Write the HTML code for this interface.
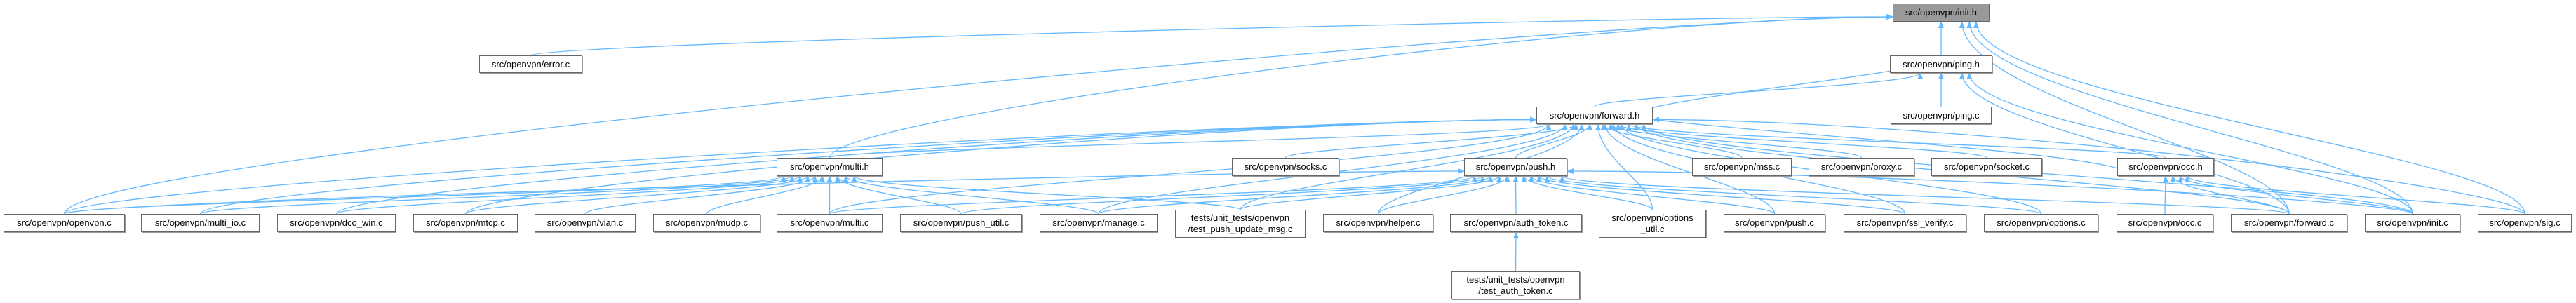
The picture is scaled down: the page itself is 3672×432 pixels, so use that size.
<!DOCTYPE html>
<html><head><meta charset="utf-8"><style>
html,body{margin:0;padding:0;background:#fff;}
body{width:3672px;height:432px;position:relative;overflow:hidden;font-family:"Liberation Sans",sans-serif;}
.n{position:absolute;box-sizing:border-box;border:1px solid #666;background:#fff;font-size:13px;color:#000;text-align:center;display:flex;align-items:center;justify-content:center;line-height:16px;box-shadow:1px 1px 0 #999;}
svg{position:absolute;left:0;top:0;}
</style></head><body>
<svg id="s" width="3672" height="432">
<defs><marker id="a" markerWidth="10" markerHeight="10" refX="9" refY="5" orient="auto" markerUnits="userSpaceOnUse"><path d="M0,1 L10,5 L0,9 z" fill="#63b8ff"/></marker></defs>
<g id="g" fill="none" stroke="#63b8ff" stroke-width="1.3"></g>
</svg>
<div id="nodes"></div>
<script>
var N={
initH:[2698,5,2836,31,"src/openvpn/init.h",1],
errorC:[683,79,830,104,"src/openvpn/error.c"],
pingH:[2694,79,2840,104,"src/openvpn/ping.h"],
pingC:[2695,152,2839,177,"src/openvpn/ping.c"],
fwdH:[2190,152,2356,177,"src/openvpn/forward.h"],
multiH:[1107,225,1258,251,"src/openvpn/multi.h"],
socksC:[1756,225,1909,251,"src/openvpn/socks.c"],
pushH:[2087,225,2234,251,"src/openvpn/push.h"],
mssC:[2412,225,2554,251,"src/openvpn/mss.c"],
proxyC:[2578,225,2729,251,"src/openvpn/proxy.c"],
socketC:[2753,225,2911,251,"src/openvpn/socket.c"],
occH:[3018,225,3156,251,"src/openvpn/occ.h"],
openvpnC:[5,305,178,331,"src/openvpn/openvpn.c"],
multiioC:[201,305,370,331,"src/openvpn/multi_io.c"],
dcoC:[395,305,564,331,"src/openvpn/dco_win.c"],
mtcpC:[589,305,738,331,"src/openvpn/mtcp.c"],
vlanC:[762,305,906,331,"src/openvpn/vlan.c"],
mudpC:[931,305,1084,331,"src/openvpn/mudp.c"],
multiC:[1107,305,1258,331,"src/openvpn/multi.c"],
pushutilC:[1283,305,1457,331,"src/openvpn/push_util.c"],
manageC:[1482,305,1650,331,"src/openvpn/manage.c"],
tpumC:[1675,299,1861,339,"tests/unit_tests/openvpn<br>/test_push_update_msg.c"],
helperC:[1886,305,2043,331,"src/openvpn/helper.c"],
authC:[2067,305,2255,331,"src/openvpn/auth_token.c"],
optutilC:[2279,299,2432,339,"src/openvpn/options<br>_util.c"],
pushC:[2457,305,2602,331,"src/openvpn/push.c"],
sslC:[2628,305,2803,331,"src/openvpn/ssl_verify.c"],
optC:[2828,305,2991,331,"src/openvpn/options.c"],
occC:[3017,305,3155,331,"src/openvpn/occ.c"],
fwdC:[3180,305,3346,331,"src/openvpn/forward.c"],
initC:[3371,305,3507,331,"src/openvpn/init.c"],
sigC:[3532,305,3666,331,"src/openvpn/sig.c"],
tatC:[2069,387,2252,427,"tests/unit_tests/openvpn<br>/test_auth_token.c"]
};
var h="";
for(var k in N){var n=N[k];h+='<div class="n" style="left:'+n[0]+'px;top:'+n[1]+'px;width:'+(n[2]-n[0])+'px;height:'+(n[3]-n[1])+'px;'+(n[5]?'background:#999;':'')+'">'+n[4]+'</div>';}
document.getElementById('nodes').innerHTML=h;
var p="";
function e(s,t){var a=N[s],b=N[t];
 var x1=(a[0]+a[2])/2,y1=a[1],x2=(b[0]+b[2])/2,y2=b[3];
 var dx=x2-x1;
 var hw=(b[2]-b[0])/2-6;
 if(Math.abs(dx)>1200&&b[3]-b[1]<30&&a[1]-b[3]>40){ // long edge: enter side
   y2=(b[1]+b[3])/2+6; x2=dx>0?b[0]:b[2];
   p+='<path d="M'+x1+','+y1+' C'+x1+','+(y1-(y1-y2)*0.3)+' '+(x2-(dx>0?400:-400))+','+y2+' '+x2+','+y2+'" marker-end="url(#a)"/>';return;}
 x2=x2+Math.max(-hw,Math.min(hw,-dx*0.06));
 var m=(y1-y2);
 p+='<path d="M'+x1+','+y1+' C'+x1+','+(y1-m*0.3)+' '+x2+','+(y2+m*0.4)+' '+x2+','+y2+'" marker-end="url(#a)"/>';}
e('errorC','initH');e('pingH','initH');e('openvpnC','initH');e('multiH','initH');e('fwdC','initH');e('initC','initH');e('sigC','initH');
e('fwdH','pingH');e('fwdC','pingH');e('initC','pingH');e('pingC','pingH');e('pingH','fwdH');
['openvpnC','multiioC','dcoC','mtcpC','multiH','multiC','manageC','tpumC','helperC','socksC','pushH','mssC','proxyC','socketC','occH','pushC','sslC','optC','optutilC','fwdC','initC','sigC'].forEach(function(s){e(s,'fwdH');});
e('fwdH','occH');
['openvpnC','multiioC','dcoC','mtcpC','vlanC','mudpC','multiC','pushutilC','manageC','tpumC'].forEach(function(s){e(s,'multiH');});
['openvpnC','multiC','pushutilC','manageC','tpumC','helperC','authC','optutilC','pushC','sslC','optC','fwdC','initC'].forEach(function(s){e(s,'pushH');});
['occC','fwdC','initC','sigC'].forEach(function(s){e(s,'occH');});
e('tatC','authC');
document.getElementById('g').innerHTML=p;
</script>
</body></html>
